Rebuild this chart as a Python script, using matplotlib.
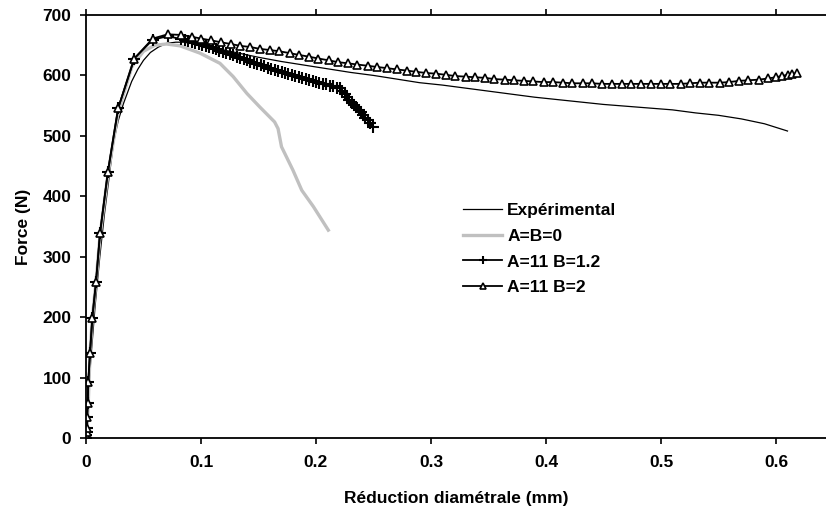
import numpy as np
import matplotlib
matplotlib.use('Agg')
import matplotlib.pyplot as plt

plt.rcParams['font.family'] = ['Liberation Sans', 'DejaVu Sans']
plt.rcParams['font.weight'] = 'bold'

# force vs diametral reduction
exp_x = [0, 0.001, 0.002, 0.003, 0.005, 0.008, 0.012, 0.016, 0.020, 0.024, 0.028,
         0.0325, 0.0397, 0.045, 0.050, 0.056, 0.063, 0.070, 0.078, 0.085, 0.095,
         0.11, 0.13, 0.15, 0.17, 0.19, 0.21, 0.23, 0.25, 0.27, 0.29, 0.31, 0.33,
         0.35, 0.37, 0.39, 0.41, 0.43, 0.45, 0.47, 0.49, 0.51, 0.53, 0.55, 0.57,
         0.59, 0.61]
exp_f = [0, 20, 60, 100, 150, 220, 300, 370, 430, 490, 525,
         553, 590, 610, 625, 638, 647, 653, 655, 655, 652,
         646, 638, 630, 623, 617, 611, 605, 600, 594, 588, 584, 579,
         574, 569, 564, 560, 556, 552, 549, 546, 543, 538, 534, 528,
         520, 508]

ab0_x = [0, 0.001, 0.002, 0.0035, 0.0055, 0.0087, 0.0122, 0.019, 0.028, 0.040,
         0.050, 0.060, 0.070, 0.0817, 0.099, 0.1165, 0.128, 0.140, 0.151, 0.164,
         0.167, 0.170, 0.180, 0.1876, 0.1977, 0.2107]
ab0_f = [0, 20, 60, 140, 199, 258, 335, 435, 540, 615,
         640, 650, 652, 649, 637, 620, 598, 570, 548, 523,
         512, 482, 443, 410, 383, 344]

b12_x = [0, 0.0003, 0.0006, 0.0008, 0.001, 0.0015, 0.002, 0.0035, 0.0055, 0.0087,
         0.0122, 0.019, 0.028, 0.042, 0.058, 0.071,
         0.083, 0.086, 0.089, 0.092, 0.095, 0.098, 0.101, 0.104, 0.107, 0.110,
         0.113, 0.116, 0.119, 0.122, 0.125, 0.128, 0.131, 0.134, 0.137, 0.140,
         0.143, 0.146, 0.149, 0.152, 0.155, 0.158, 0.161, 0.164, 0.167, 0.170,
         0.173, 0.176, 0.179, 0.182, 0.185, 0.188, 0.191, 0.194, 0.197, 0.200,
         0.203, 0.206, 0.209, 0.212, 0.215, 0.218, 0.221, 0.223, 0.225, 0.227,
         0.229, 0.231, 0.233, 0.235, 0.237, 0.239, 0.241, 0.243, 0.245, 0.247,
         0.2496]
b12_f = [0, 5, 10, 17, 35, 58, 93, 141, 199, 258,
         339, 440, 546, 628, 659, 665,
         660, 659, 657, 656, 654, 652, 650, 649, 647, 645,
         643, 641, 639, 637, 635, 633, 631, 629, 627, 625,
         623, 621, 619, 617, 615, 613, 611, 609, 607, 605,
         604, 602, 601, 599, 597, 596, 594, 592, 591, 589,
         588, 586, 585, 583, 582, 580, 579, 574, 569, 564,
         559, 555, 551, 547, 543, 539, 535, 530, 526, 521,
         515]

b2_x = [0, 0.0003, 0.0006, 0.0008, 0.001, 0.0015, 0.002, 0.0035, 0.0055, 0.0087,
        0.0122, 0.019, 0.028, 0.042, 0.058, 0.071,
        0.083, 0.092, 0.100, 0.109, 0.117, 0.126, 0.134, 0.143, 0.151, 0.160,
        0.168, 0.177, 0.185, 0.194, 0.202, 0.211, 0.219, 0.228, 0.236, 0.245,
        0.253, 0.262, 0.270, 0.279, 0.287, 0.296, 0.304, 0.313, 0.321, 0.330,
        0.338, 0.347, 0.355, 0.364, 0.372, 0.381, 0.389, 0.398, 0.406, 0.415,
        0.423, 0.432, 0.440, 0.449, 0.457, 0.466, 0.474, 0.483, 0.491, 0.500,
        0.508, 0.517, 0.525, 0.534, 0.542, 0.551, 0.559, 0.568, 0.576, 0.585,
        0.593, 0.600, 0.605, 0.610, 0.614, 0.618]
b2_f = [0, 5, 10, 17, 35, 58, 93, 141, 199, 258,
        339, 440, 546, 628, 661, 668,
        667, 664, 661, 658, 655, 652, 649, 647, 644, 642,
        640, 637, 634, 631, 628, 625, 622, 620, 618, 616,
        614, 612, 610, 608, 606, 604, 603, 601, 599, 598,
        597, 596, 594, 593, 592, 591, 590, 589, 589, 588,
        587, 587, 587, 586, 586, 586, 586, 586, 586, 586,
        586, 586, 587, 588, 588, 588, 589, 591, 592, 593,
        595, 597, 599, 601, 602, 604]

x_ticks = [0, 0.1, 0.2, 0.3, 0.4, 0.5, 0.6]
x_labels = ['0', '0.1', '0.2', '0.3', '0.4', '0.5', '0.6']
y_ticks = [0, 100, 200, 300, 400, 500, 600, 700]

FS = 12.5

fig = plt.figure(figsize=(8.26, 5.13), dpi=100)
ax = fig.add_axes([86 / 826, 1 - 438 / 513, 1 - 86 / 826, (438 - 15) / 513])

ax.plot(exp_x, exp_f, color='black', lw=0.9, label='Expérimental')
ax.plot(ab0_x, ab0_f, color='#c0c0c0', lw=2.4, label='A=B=0')
ax.plot(b12_x, b12_f, color='black', lw=1.3, marker='+', ms=8, mew=1.5,
        label='A=11 B=1.2')
ax.plot(b2_x, b2_f, color='black', lw=1.3, marker='^', ms=5.8, mew=1.2,
        mfc='white', label='A=11 B=2')

ax.set_xlim(0, 740 / 1150)
ax.set_ylim(0, 700)
ax.set_xticks(x_ticks)
ax.set_xticklabels(x_labels)
ax.set_yticks(y_ticks)

for s in ['left', 'bottom', 'top']:
    ax.spines[s].set_linewidth(1.3)
ax.spines['right'].set_visible(False)
ax.tick_params(axis='both', direction='out', length=4.5, width=1.2,
               labelsize=FS, colors='black')
ax.tick_params(axis='x', pad=8, top=True, labeltop=False)
ax.tick_params(axis='y', pad=6)
for lab in ax.get_xticklabels() + ax.get_yticklabels():
    lab.set_fontweight('bold')

ax.set_xlabel('Réduction diamétrale (mm)', fontsize=FS, fontweight='bold',
              labelpad=15)
ax.set_ylabel('Force (N)', fontsize=FS, fontweight='bold', labelpad=8)

leg = ax.legend(loc='center left', bbox_to_anchor=(463 / 826, 1 - 249 / 513),
                bbox_transform=fig.transFigure, frameon=False, fontsize=FS,
                handlelength=2.25, handletextpad=0.3, labelspacing=0.62,
                borderpad=0, borderaxespad=0, markerscale=0.8)
for t in leg.get_texts():
    t.set_fontweight('bold')

plt.savefig('out.png', dpi=100)
plt.close(fig)
